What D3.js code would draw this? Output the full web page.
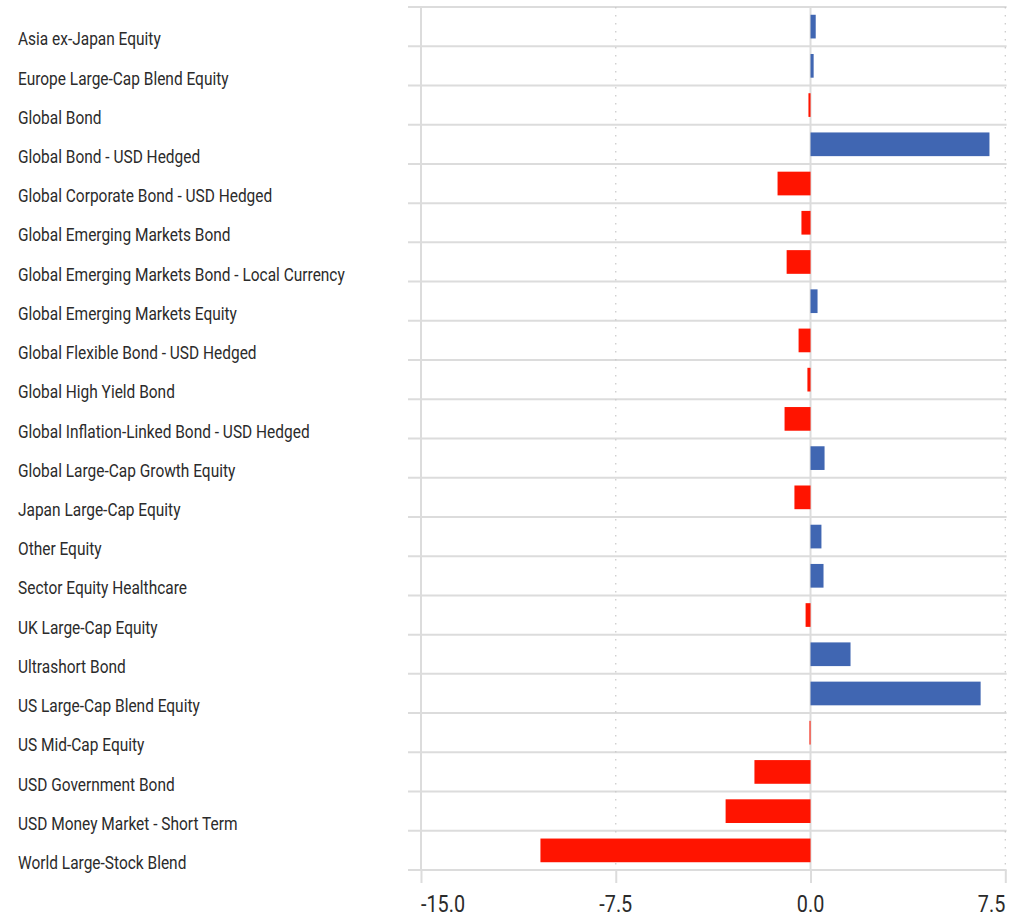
<!DOCTYPE html>
<html>
<head>
<meta charset="utf-8">
<script src="https://cdn.jsdelivr.net/npm/d3@7"></script>
<style>
  html, body { margin: 0; padding: 0; background: #fff; }
  svg { display: block; }
  text { font-family: Roboto, "Liberation Sans", sans-serif; }
</style>
</head>
<body>
<svg id="chart" width="1027" height="917"></svg>
<script>
// Category names, top to bottom
const categories = [
  "Asia ex-Japan Equity",
  "Europe Large-Cap Blend Equity",
  "Global Bond",
  "Global Bond - USD Hedged",
  "Global Corporate Bond - USD Hedged",
  "Global Emerging Markets Bond",
  "Global Emerging Markets Bond - Local Currency",
  "Global Emerging Markets Equity",
  "Global Flexible Bond - USD Hedged",
  "Global High Yield Bond",
  "Global Inflation-Linked Bond - USD Hedged",
  "Global Large-Cap Growth Equity",
  "Japan Large-Cap Equity",
  "Other Equity",
  "Sector Equity Healthcare",
  "UK Large-Cap Equity",
  "Ultrashort Bond",
  "US Large-Cap Blend Equity",
  "US Mid-Cap Equity",
  "USD Government Bond",
  "USD Money Market - Short Term",
  "World Large-Stock Blend"
];

// One value per category
const values = [
  0.20, 0.12, -0.08, 6.89, -1.27, -0.35, -0.92, 0.27, -0.46, -0.12, -1.00,
  0.54, -0.62, 0.42, 0.50, -0.19, 1.54, 6.55, -0.04, -2.16, -3.27, -10.40
];

const tickValues = [-15, -7.5, 0, 7.5];
const tickLabels = ["-15.0", "-7.5", "0.0", "7.5"];

const rows = categories.map((c, i) => ({ name: c, value: values[i] }));

const svg = d3.select("#chart");

const x = d3.scaleLinear().domain([-15.5, 7.55]).range([408, 1006.6]);
const y = d3.scaleBand().domain(categories).range([7, 870]).padding(0);

const grid = "#dcdcdc";
const plotTop = y.range()[0], plotBottom = y.range()[1];
const step = y.step();

// Horizontal separators at every band edge
const edges = d3.range(categories.length + 1).map(i => plotTop + i * step);
svg.append("g").selectAll("line").data(edges).join("line")
  .attr("x1", x.range()[0]).attr("x2", x.range()[1])
  .attr("y1", d => d).attr("y2", d => d)
  .attr("stroke", grid).attr("stroke-width", 2);

// Vertical grid: solid at -15 and 0, dotted elsewhere
const isSolid = d => d === -15 || d === 0;
svg.append("g").selectAll("line").data(tickValues).join("line")
  .attr("x1", d => x(d)).attr("x2", d => x(d))
  .attr("y1", plotTop).attr("y2", plotBottom)
  .attr("stroke", d => isSolid(d) ? grid : "#c8c8c8")
  .attr("stroke-width", d => isSolid(d) ? 2 : 1.2)
  .attr("stroke-dasharray", d => isSolid(d) ? null : "1.5,6.5");

// Bars
const barH = step * 0.604;
svg.append("g").selectAll("rect").data(rows).join("rect")
  .attr("x", d => x(Math.min(0, d.value)))
  .attr("width", d => Math.max(1, Math.abs(x(d.value) - x(0))))
  .attr("y", d => y(d.name) + (step - barH) / 2)
  .attr("height", barH)
  .attr("fill", d => d.value >= 0 ? "#4066b2" : "#ff1400");

// Axis ticks below the plot
const axis = d3.axisBottom(x).tickValues(tickValues)
  .tickSize(13).tickFormat((d, i) => tickLabels[i]);
const ax = svg.append("g").attr("transform", `translate(0,${plotBottom})`).call(axis);
ax.select(".domain").remove();
ax.selectAll(".tick line").attr("stroke", grid).attr("stroke-width", 2);
ax.selectAll(".tick text").remove();

// Axis labels (edge labels kept inside the plot), condensed
const sx = 0.86;
svg.append("g").selectAll("text").data(tickValues).join("text")
  .attr("transform", d => `translate(${x(d)},912) scale(${sx},1)`)
  .attr("text-anchor", (d, i) => i === 0 ? "start" : (i === tickValues.length - 1 ? "end" : "middle"))
  .attr("font-size", 23)
  .attr("fill", "#2b2b2b")
  .text((d, i) => tickLabels[i]);

// Category labels, condensed
svg.append("g").selectAll("text").data(rows).join("text")
  .attr("transform", d => `translate(18,${y(d.name) + 38.3}) scale(${sx},1)`)
  .attr("font-size", 18)
  .attr("fill", "#2b2b2b")
  .text(d => d.name);
</script>
</body>
</html>
